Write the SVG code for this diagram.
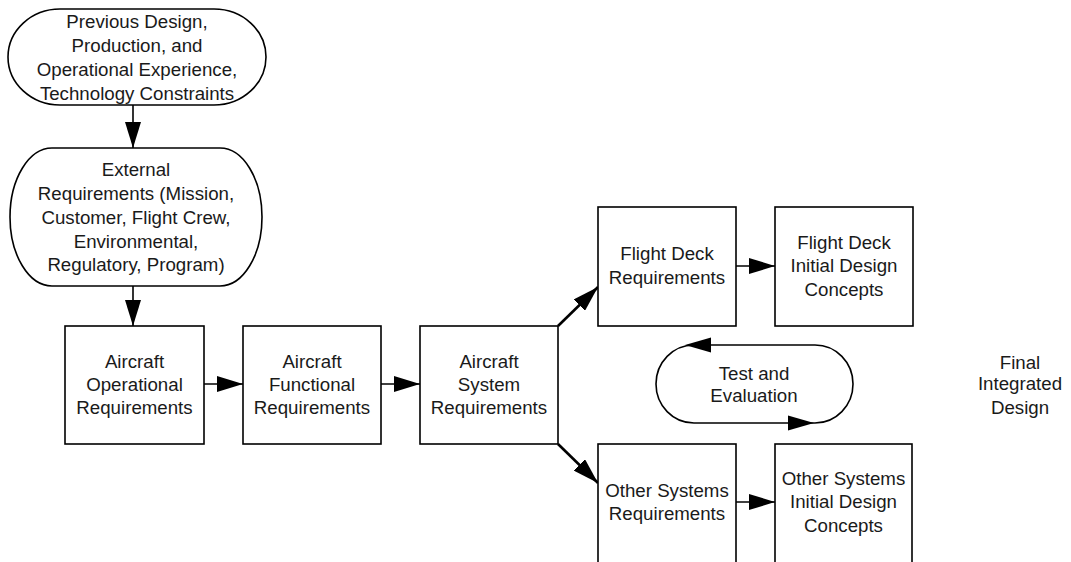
<svg xmlns="http://www.w3.org/2000/svg" width="1071" height="562" viewBox="0 0 1071 562">
<style>
.s{fill:#fff;stroke:#000;stroke-width:1.6}
.t{font-family:"Liberation Sans",Arial,sans-serif;font-size:18.7px;fill:#1a1a1a;text-anchor:middle}
.c{fill:none;stroke:#000;stroke-width:1.6}
.d{fill:none;stroke:#000;stroke-width:2.6}
.h{fill:#000;stroke:none}
</style>
<defs>
<marker id="ah" markerUnits="userSpaceOnUse" markerWidth="26" markerHeight="16" refX="26" refY="8" orient="auto">
<path d="M0,0 L26,8 L0,16 z" fill="#000"/>
</marker>
</defs>
<rect width="1071" height="562" fill="#fff"/>
<g id="connectors">
<line class="c" x1="133" y1="105" x2="133" y2="148" marker-end="url(#ah)"/>
<line class="c" x1="133" y1="286" x2="133" y2="326" marker-end="url(#ah)"/>
<line class="c" x1="204" y1="384" x2="243" y2="384" marker-end="url(#ah)"/>
<line class="c" x1="381" y1="384" x2="420" y2="384" marker-end="url(#ah)"/>
<line class="d" x1="558" y1="326" x2="598" y2="287" marker-end="url(#ah)"/>
<line class="d" x1="558" y1="444" x2="598" y2="483" marker-end="url(#ah)"/>
<line class="c" x1="736" y1="266" x2="775" y2="266" marker-end="url(#ah)"/>
<line class="c" x1="736" y1="502" x2="775" y2="502" marker-end="url(#ah)"/>
</g>
<g id="n-previous">
<rect class="s" x="8" y="9" width="258" height="96" rx="52" ry="48"/>
<text class="t" x="137" y="28">Previous Design,</text>
<text class="t" x="137" y="52">Production, and</text>
<text class="t" x="137" y="76">Operational Experience,</text>
<text class="t" x="137" y="100">Technology Constraints</text>
</g>
<g id="n-external">
<rect class="s" x="10" y="148" width="252" height="138" rx="42" ry="69"/>
<text class="t" x="136" y="176">External</text>
<text class="t" x="136" y="200">Requirements (Mission,</text>
<text class="t" x="136" y="224">Customer, Flight Crew,</text>
<text class="t" x="136" y="248">Environmental,</text>
<text class="t" x="136" y="271">Regulatory, Program)</text>
</g>
<g id="n-acop">
<rect class="s" x="65" y="326" width="139" height="118"/>
<text class="t" x="134.5" y="368">Aircraft</text>
<text class="t" x="134.5" y="391">Operational</text>
<text class="t" x="134.5" y="414">Requirements</text>
</g>
<g id="n-acfn">
<rect class="s" x="243" y="326" width="138" height="118"/>
<text class="t" x="312" y="368">Aircraft</text>
<text class="t" x="312" y="391">Functional</text>
<text class="t" x="312" y="414">Requirements</text>
</g>
<g id="n-acsys">
<rect class="s" x="420" y="326" width="138" height="118"/>
<text class="t" x="489" y="368">Aircraft</text>
<text class="t" x="489" y="391">System</text>
<text class="t" x="489" y="414">Requirements</text>
</g>
<g id="n-fdreq">
<rect class="s" x="598" y="207" width="138" height="119"/>
<text class="t" x="667" y="260">Flight Deck</text>
<text class="t" x="667" y="284">Requirements</text>
</g>
<g id="n-fdinit">
<rect class="s" x="775" y="207" width="138" height="119"/>
<text class="t" x="844" y="249">Flight Deck</text>
<text class="t" x="844" y="272">Initial Design</text>
<text class="t" x="844" y="296">Concepts</text>
</g>
<g id="n-test">
<rect class="s" x="656" y="345" width="197" height="78" rx="38" ry="39"/>
<polygon class="h" points="685,345 711,337.5 711,352.5"/>
<polygon class="h" points="814,423 788,415.5 788,430.5"/>
<text class="t" x="754" y="380">Test and</text>
<text class="t" x="754" y="402">Evaluation</text>
</g>
<g id="n-final">
<text class="t" x="1020" y="369">Final</text>
<text class="t" x="1020" y="390">Integrated</text>
<text class="t" x="1020" y="414">Design</text>
</g>
<g id="n-osreq">
<rect class="s" x="598" y="444" width="138" height="124"/>
<text class="t" x="667" y="497">Other Systems</text>
<text class="t" x="667" y="520">Requirements</text>
</g>
<g id="n-osinit">
<rect class="s" x="775" y="444" width="137" height="124"/>
<text class="t" x="843.5" y="485">Other Systems</text>
<text class="t" x="843.5" y="508">Initial Design</text>
<text class="t" x="843.5" y="532">Concepts</text>
</g>
</svg>
